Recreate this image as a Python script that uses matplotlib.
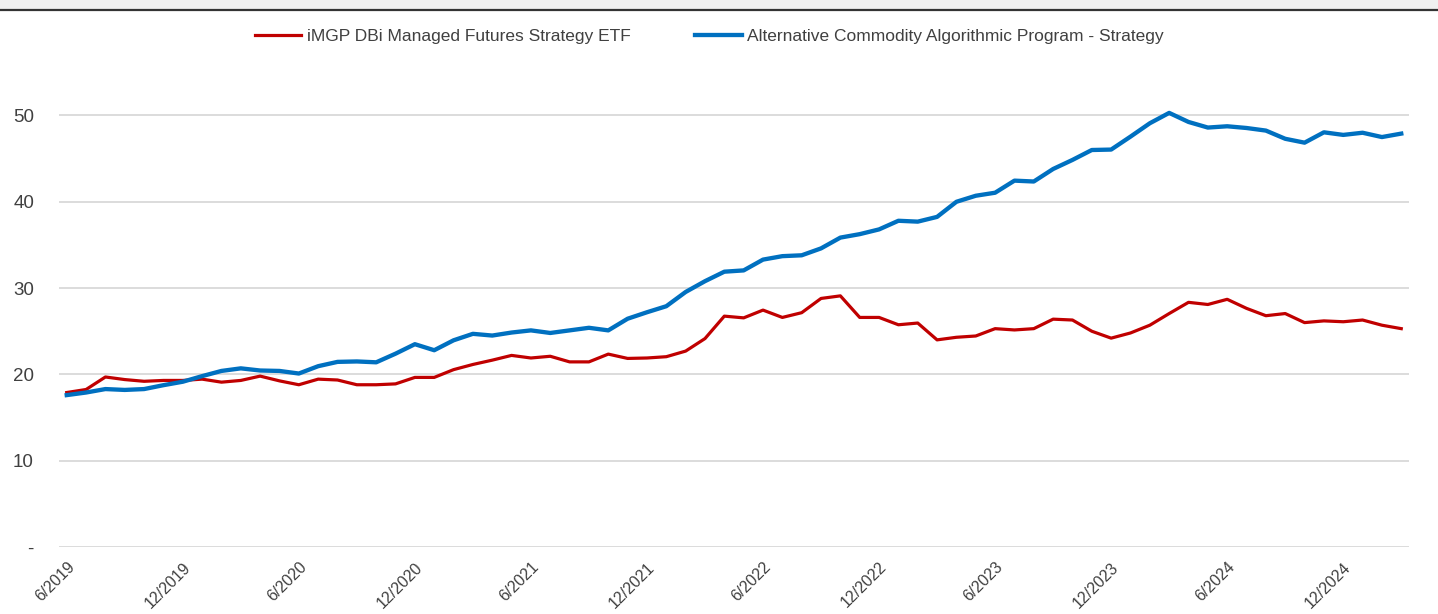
import matplotlib
matplotlib.use("Agg")
import matplotlib.pyplot as plt
from matplotlib.patches import Rectangle
from matplotlib.lines import Line2D

# ---- data (monthly, 6/2019 .. 3/2025) ----
months = [f"{m}/{y}" for y in range(2019, 2026) for m in range(1, 13)]
months = months[months.index("6/2019"):months.index("3/2025") + 1]

imgp_dbi = [17.9, 18.25, 19.7, 19.4, 19.2, 19.3, 19.3, 19.45, 19.1, 19.3,
            19.8, 19.25, 18.8, 19.45, 19.35, 18.8, 18.8, 18.9, 19.65, 19.65,
            20.55, 21.15, 21.65, 22.2, 21.9, 22.1, 21.45, 21.45, 22.35, 21.85,
            21.9, 22.05, 22.7, 24.15, 26.75, 26.55, 27.45, 26.6, 27.15, 28.8,
            29.1, 26.6, 26.6, 25.75, 25.95, 24.0, 24.3, 24.45, 25.3, 25.15,
            25.3, 26.4, 26.3, 25.0, 24.2, 24.8, 25.7, 27.05, 28.35, 28.1,
            28.7, 27.65, 26.8, 27.05, 26.0, 26.2, 26.1, 26.3, 25.7, 25.3]

acap_strategy = [17.6, 17.9, 18.3, 18.2, 18.3, 18.75, 19.15, 19.8, 20.4, 20.7,
                 20.45, 20.4, 20.1, 20.95, 21.45, 21.5, 21.4, 22.4, 23.5, 22.8,
                 23.95, 24.7, 24.5, 24.85, 25.1, 24.8, 25.1, 25.4, 25.1, 26.45,
                 27.2, 27.9, 29.55, 30.8, 31.9, 32.05, 33.3, 33.7, 33.8, 34.6,
                 35.85, 36.25, 36.8, 37.8, 37.7, 38.25, 40.0, 40.7, 41.05, 42.45,
                 42.35, 43.8, 44.85, 46.0, 46.05, 47.55, 49.1, 50.3, 49.25, 48.6,
                 48.75, 48.55, 48.25, 47.3, 46.85, 48.05, 47.75, 48.0, 47.5, 47.9]

series_names = ["iMGP DBi Managed Futures Strategy ETF",
                "Alternative Commodity Algorithmic Program - Strategy"]
y_ticks = [0, 10, 20, 30, 40, 50]
y_tick_labels = ["-", "10", "20", "30", "40", "50"]

# ---- figure ----
plt.rcParams["font.family"] = ["Liberation Sans", "DejaVu Sans"]
W, H = 1438, 614
fig = plt.figure(figsize=(W / 100, H / 100), dpi=100)
fig.patch.set_facecolor("white")

# top gray band + dark rule
fig.patches.append(Rectangle((0, 1 - 9.5 / H), 1, 9.5 / H, transform=fig.transFigure,
                             facecolor="#f0f0f0", edgecolor="none", zorder=0))
fig.lines.append(Line2D([0, 1], [1 - 10 / H, 1 - 10 / H], transform=fig.transFigure,
                        color="#333333", linewidth=1.6))

left, right = 59 / W, 1409 / W
bottom = (H - 547) / H
ax = fig.add_axes([left, bottom, right - left, (547 - 63.7) / H])

x = list(range(len(months)))
ax.plot(x, imgp_dbi, color="#C00000", linewidth=2.3, label=series_names[0],
        solid_joinstyle="round", zorder=3)
ax.plot(x, acap_strategy, color="#0070C0", linewidth=3.1, label=series_names[1],
        solid_joinstyle="round", zorder=3)

ax.set_xlim(-0.4, len(months) - 1 + 0.4)
ax.set_ylim(0, 56)
ax.set_yticks(y_ticks)
ax.set_yticklabels(y_tick_labels)
ax.yaxis.grid(True, color="#d9d9d9", linewidth=1.3)
ax.set_axisbelow(True)
for s in ax.spines.values():
    s.set_visible(False)

tick_idx = list(range(0, len(months), 6))
ax.set_xticks(tick_idx)
ax.set_xticklabels([months[i] for i in tick_idx], rotation=45, ha="right",
                   rotation_mode="anchor")
ax.tick_params(axis="both", length=0, colors="#404040")
ax.tick_params(axis="x", pad=9, labelsize=11.5)
ax.tick_params(axis="y", pad=18, labelsize=13.5)

handles, labels = ax.get_legend_handles_labels()
leg = fig.legend(handles, labels, loc="center", bbox_to_anchor=(709 / W, 1 - 36 / H),
                 ncol=2, frameon=False, fontsize=12.5, handlelength=2.7,
                 handletextpad=0.3, columnspacing=3.7, labelcolor="#404040")

fig.savefig("out.png", dpi=100)
